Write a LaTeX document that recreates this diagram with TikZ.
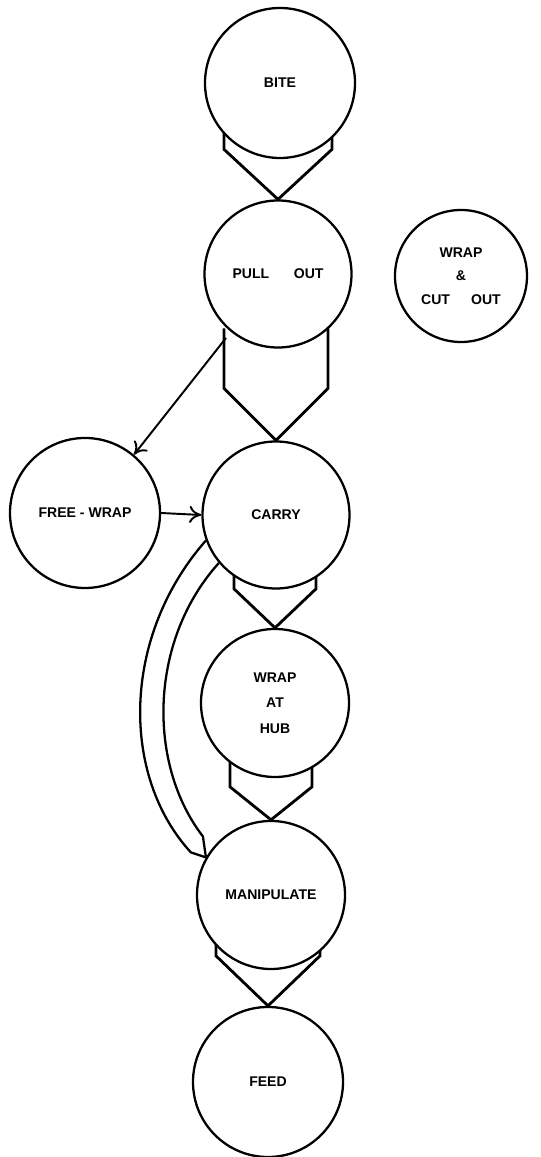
\documentclass[tikz,border=0pt]{standalone}
\usepackage{fontspec}
\setmainfont{Liberation Sans}
\usetikzlibrary{arrows.meta,calc,backgrounds}
\tikzset{
 every node/.style={font=\fontsize{8}{14.5}\selectfont\bfseries},
 state/.style={circle,draw,line width=1.3pt,fill=white,minimum size=29.4mm,inner sep=0pt,align=center},
 fat/.style={line width=1.6pt,line join=miter},
 arr/.style={-{Computer Modern Rightarrow[length=2.4mm,width=3.4mm]},line width=1.1pt},
 band/.style={line width=1.3pt},
 }
% wide arrow: upper node, lower node, half width, drop of the bend above the tip
\newcommand{\fatlink}[4]{%
 \draw[fat]($(#2.north)+(-#3,#4+60)$)--($(#2.north)+(-#3,#4)$)--(#2.north)
 --($(#2.north)+(#3,#4)$)--($(#2.north)+(#3,#4+60)$);}

\begin{document}
\begin{tikzpicture}[x=0.2mm,y=0.2mm]
 \useasboundingbox(0,0)rectangle(541,1157);
 \node[state,minimum size=30mm](bite)at(280,1074){BITE};
 \node[state](pull)at(278,883){PULL\hspace{14pt}OUT};
 \node[state,minimum size=26.4mm,font=\fontsize{8}{13.3}\selectfont\bfseries](cut)at(461,881){WRAP\\\&\\CUT\hspace{12pt}OUT};
 \node[state,minimum size=30mm](free)at(85,644){FREE - WRAP};
 \node[state](carry)at(276,642){CARRY};
 \node[state,minimum size=29.6mm](hub)at(275,454){WRAP\\AT\\HUB};
 \node[state,minimum size=29.6mm](manip)at(271,262){MANIPULATE};
 \node[state,minimum size=30mm](feed)at(268,75){FEED};
 \begin{scope}[on background layer]
 \fatlink{bite}{pull}{54}{50}
 \fatlink{pull}{carry}{52}{52}
 \fatlink{carry}{hub}{41}{39}
 \fatlink{hub}{manip}{41}{33}
 \fatlink{manip}{feed}{52}{50}
 \end{scope}
 \coordinate(tap)at($(pull.center)+(-52,-64)$);
 \draw[arr](tap)--(free.50);
 \draw[arr](free.east)--(carry.west);
 % curved wide arrow round the hub
 \draw[band](carry.200).. controls +(-85,-97) and +(-70,76) ..($(manip.150)+(-15,5)$)--(manip.150);
 \draw[band](carry.220).. controls +(-71,-79) and +(-55,71) ..($(manip.150)+(-3,21)$)--(manip.150);
\end{tikzpicture}
\end{document}
